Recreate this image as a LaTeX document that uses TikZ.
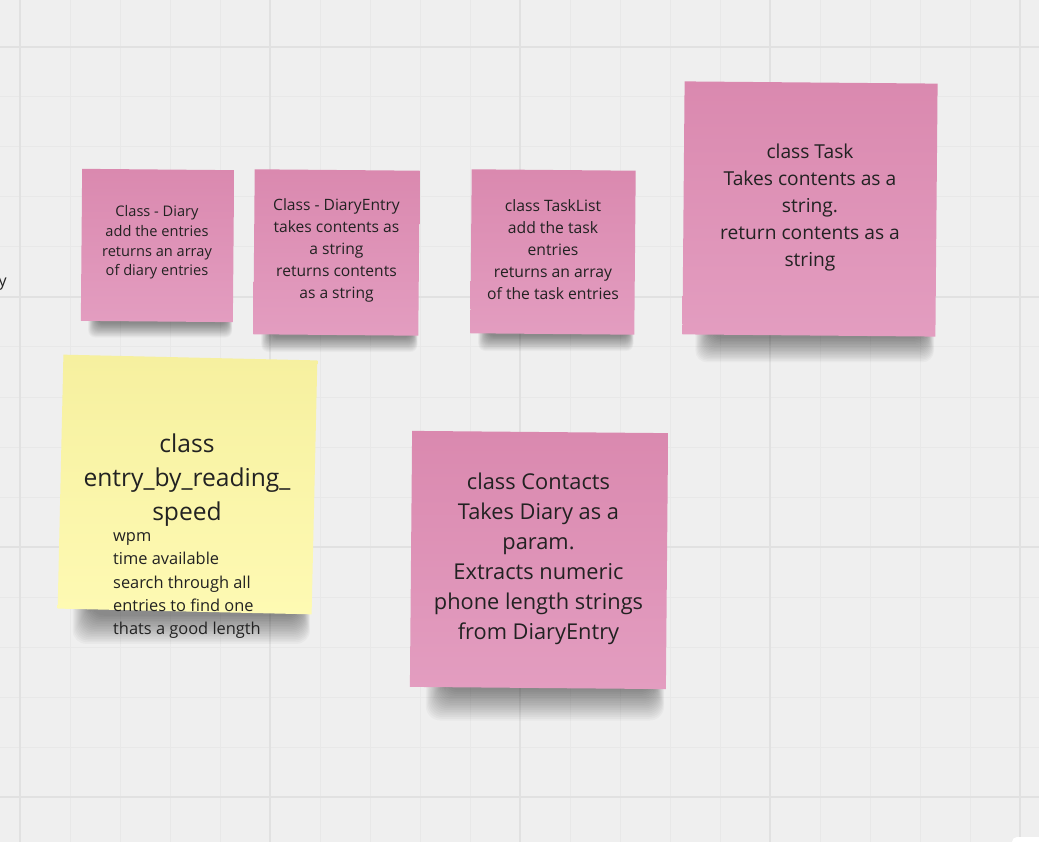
\documentclass[tikz,border=0pt]{standalone}
\usepackage{fontspec}
\setmainfont{Open Sans}
\usetikzlibrary{calc}
\definecolor{bgc}{HTML}{EFEFEF}
\definecolor{gridminor}{HTML}{E8E8E8}
\definecolor{gridmajor}{HTML}{E1E1E1}
\definecolor{pinktop}{HTML}{DA89AF}
\definecolor{pinkbot}{HTML}{E39DC0}
\definecolor{yeltop}{HTML}{F6F09F}
\definecolor{yelbot}{HTML}{FEFAB3}
\definecolor{ink}{HTML}{222222}
\pgfdeclarelayer{bg}
\pgfdeclarelayer{sh}
\pgfsetlayers{bg,sh,main}
\newcommand\fsz[2]{\fontsize{#1pt}{#2pt}\selectfont}
\newcommand\noteshadow[2]{%
  \begin{pgfonlayer}{sh}
  \foreach \i in {0,...,17}{
    \fill[black, fill opacity=0.026, rounded corners={#2*0.45pt}]
      ($(#1.south west)+({#2*1.1-\i*#2*0.035},{-8-\i*0.2})$) rectangle
      ($(#1.south east)+({-#2*0.4+\i*#2*0.02},{1+\i*#2/18})$);
  }
  \end{pgfonlayer}}
\tikzset{
  note/.style={draw=none, rectangle, inner sep=0pt, top color=pinktop, bottom color=pinkbot, rotate=-0.5},
  yellownote/.style={note, top color=yeltop, bottom color=yelbot, rotate=-0.8},
  notetext/.style={text=ink, align=center, inner sep=0pt},
}
\begin{document}
\begin{tikzpicture}[x=1pt,y=-1pt]
\useasboundingbox (0,0) rectangle (1039,842);
\clip (0,0) rectangle (1039,842);
\begin{pgfonlayer}{bg}
  \fill[bgc] (0,0) rectangle (1039,842);
  \foreach \x in {20,70,...,1020} \draw[gridminor, line width=1pt] (\x,0) -- (\x,842);
  \foreach \y in {47,97,...,797} \draw[gridminor, line width=1pt] (0,\y) -- (1039,\y);
  \foreach \x in {20,270,...,1020} \draw[gridmajor, line width=1.6pt] (\x,0) -- (\x,842);
  \foreach \y in {47,297,...,797} \draw[gridmajor, line width=1.6pt] (0,\y) -- (1039,\y);
\end{pgfonlayer}

% notes
\node[note, minimum width=152pt, minimum height=152pt] (diary) at (157.5,245.5) {};
\node[notetext, font=\fsz{14.6}{19.7}] (diaryT) at (157,242.5) {Class - Diary\\add the entries\\returns an array\\of diary entries};

\node[note, minimum width=165pt, minimum height=165pt] (entry) at (336.5,252.5) {};
\node[notetext, font=\fsz{15.6}{22}] (entryT) at (336.5,250.5) {Class - DiaryEntry\\takes contents as\\a string\\returns contents\\as a string};

\node[note, minimum width=164pt, minimum height=164pt] (tasklist) at (553,252) {};
\node[notetext, font=\fsz{15.7}{22}] (tasklistT) at (553,249.5) {class TaskList\\add the task\\entries\\returns an array\\of the task entries};

\node[note, minimum width=253pt, minimum height=253pt] (task) at (810,209) {};
\node[notetext, font=\fsz{19.2}{27}] (taskT) at (810,208) {class Task\\Takes contents as a\\string.\\return contents as a\\string};

\node[yellownote, minimum width=254pt, minimum height=254pt] (speed) at (187.5,484.5) {};
\node[notetext, font=\fsz{24.6}{34}] (speedT) at (187,480) {class\\entry\_by\_reading\_\\speed};
\node[notetext, align=left, anchor=west, font=\fsz{16.4}{23.4}] (speedB) at (113,585.5) {wpm\\time available\\search through all\\entries to find one\\thats a good length};

\node[note, minimum width=256pt, minimum height=256pt] (contacts) at (539,560) {};
\node[notetext, font=\fsz{21.8}{30}] (contactsT) at (538.5,558.5) {class Contacts\\Takes Diary as a\\param.\\Extracts numeric\\phone length strings\\from DiaryEntry};

\noteshadow{diary}{15}
\noteshadow{entry}{16}
\noteshadow{tasklist}{16}
\noteshadow{task}{26}
\noteshadow{speed}{30}
\noteshadow{contacts}{32}

% cut-off text at left edge
\node[text=ink, font=\fsz{16}{20}, anchor=base west, inner sep=0pt] (ylabel) at (-1.5,287) {y};

% white panel corner at bottom right
\fill[white, rounded corners=5pt] (1012,837) rectangle (1060,870);
\end{tikzpicture}
\end{document}
